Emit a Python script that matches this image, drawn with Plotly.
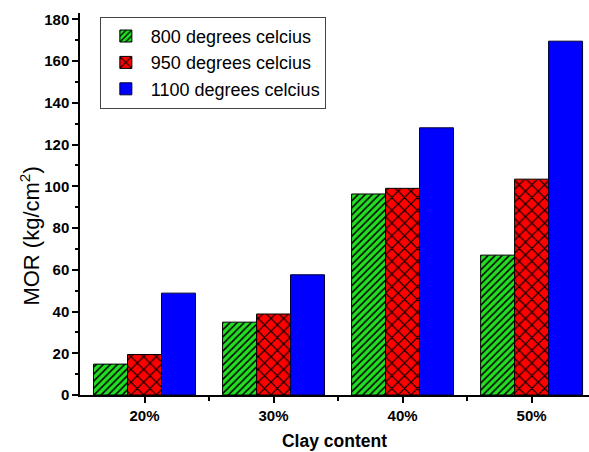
import plotly.graph_objects as go

# Modulus of rupture by clay content and firing temperature
categories = ["20%", "30%", "40%", "50%"]
mor_800 = [14.8, 34.9, 96.3, 67.0]
mor_950 = [19.4, 38.8, 99.0, 103.4]
mor_1100 = [48.8, 57.6, 128.0, 169.5]
series_names = ["800 degrees celcius", "950 degrees celcius", "1100 degrees celcius"]
y_title = "MOR (kg/cm<sup>2</sup>)"
x_title = "Clay content"

x_pos = list(range(len(categories)))
font_family = "Arial, Liberation Sans, Helvetica, sans-serif"

fig = go.Figure()
fig.add_trace(go.Bar(
    x=x_pos, y=mor_800, name=series_names[0],
    marker=dict(color="#22dd22", line=dict(color="black", width=1),
                pattern=dict(shape="/", fgcolor="black", bgcolor="#22dd22",
                             size=5, solidity=0.3, fillmode="replace")),
))
fig.add_trace(go.Bar(
    x=x_pos, y=mor_950, name=series_names[1],
    marker=dict(color="red", line=dict(color="black", width=1),
                pattern=dict(shape="x", fgcolor="black", bgcolor="red",
                             size=9, solidity=0.25, fillmode="replace")),
))
fig.add_trace(go.Bar(
    x=x_pos, y=mor_1100, name=series_names[2],
    marker=dict(color="#0000ff", line=dict(color="#000033", width=1)),
))

fig.update_layout(
    width=589, height=452,
    margin=dict(l=80, r=0, t=13, b=57),
    paper_bgcolor="white", plot_bgcolor="white",
    barmode="group", bargap=0.21, bargroupgap=0,
    font=dict(family=font_family, color="black"),
    showlegend=True,
    legend=dict(
        x=0.039, y=0.99, xanchor="left", yanchor="top",
        bordercolor="#444", borderwidth=1, bgcolor="white",
        font=dict(size=18, family=font_family),
        tracegroupgap=0, itemwidth=40,
    ),
    xaxis=dict(
        range=[-0.5, 3.445],
        tickmode="array", tickvals=x_pos, ticktext=categories,
        showline=True, linecolor="black", linewidth=1.5,
        ticks="outside", ticklen=6, tickwidth=1.5, tickcolor="black",
        minor=dict(tickmode="array", tickvals=[0.5, 1.5, 2.5],
                   ticks="outside", ticklen=4, tickwidth=1.5, tickcolor="black"),
        showgrid=False, zeroline=False,
        tickfont=dict(size=15, family=font_family, weight="bold"),
        title=dict(text=x_title, standoff=12,
                   font=dict(size=17.5, family=font_family, weight="bold")),
    ),
    yaxis=dict(
        range=[0, 183],
        tickmode="linear", tick0=0, dtick=20,
        showline=True, linecolor="black", linewidth=1.5,
        ticks="outside", ticklen=6, tickwidth=1.5, tickcolor="black",
        minor=dict(tick0=0, dtick=10, ticks="outside", ticklen=3,
                   tickwidth=1.5, tickcolor="black"),
        showgrid=False, zeroline=False,
        tickfont=dict(size=15, family=font_family, weight="bold"),
    ),
    annotations=[dict(
        text=y_title, textangle=-90, showarrow=False,
        xref="paper", yref="paper", x=-0.098, y=0.415,
        xanchor="center", yanchor="middle",
        font=dict(size=22, family=font_family),
    )],
)

fig.write_html("out.html")
